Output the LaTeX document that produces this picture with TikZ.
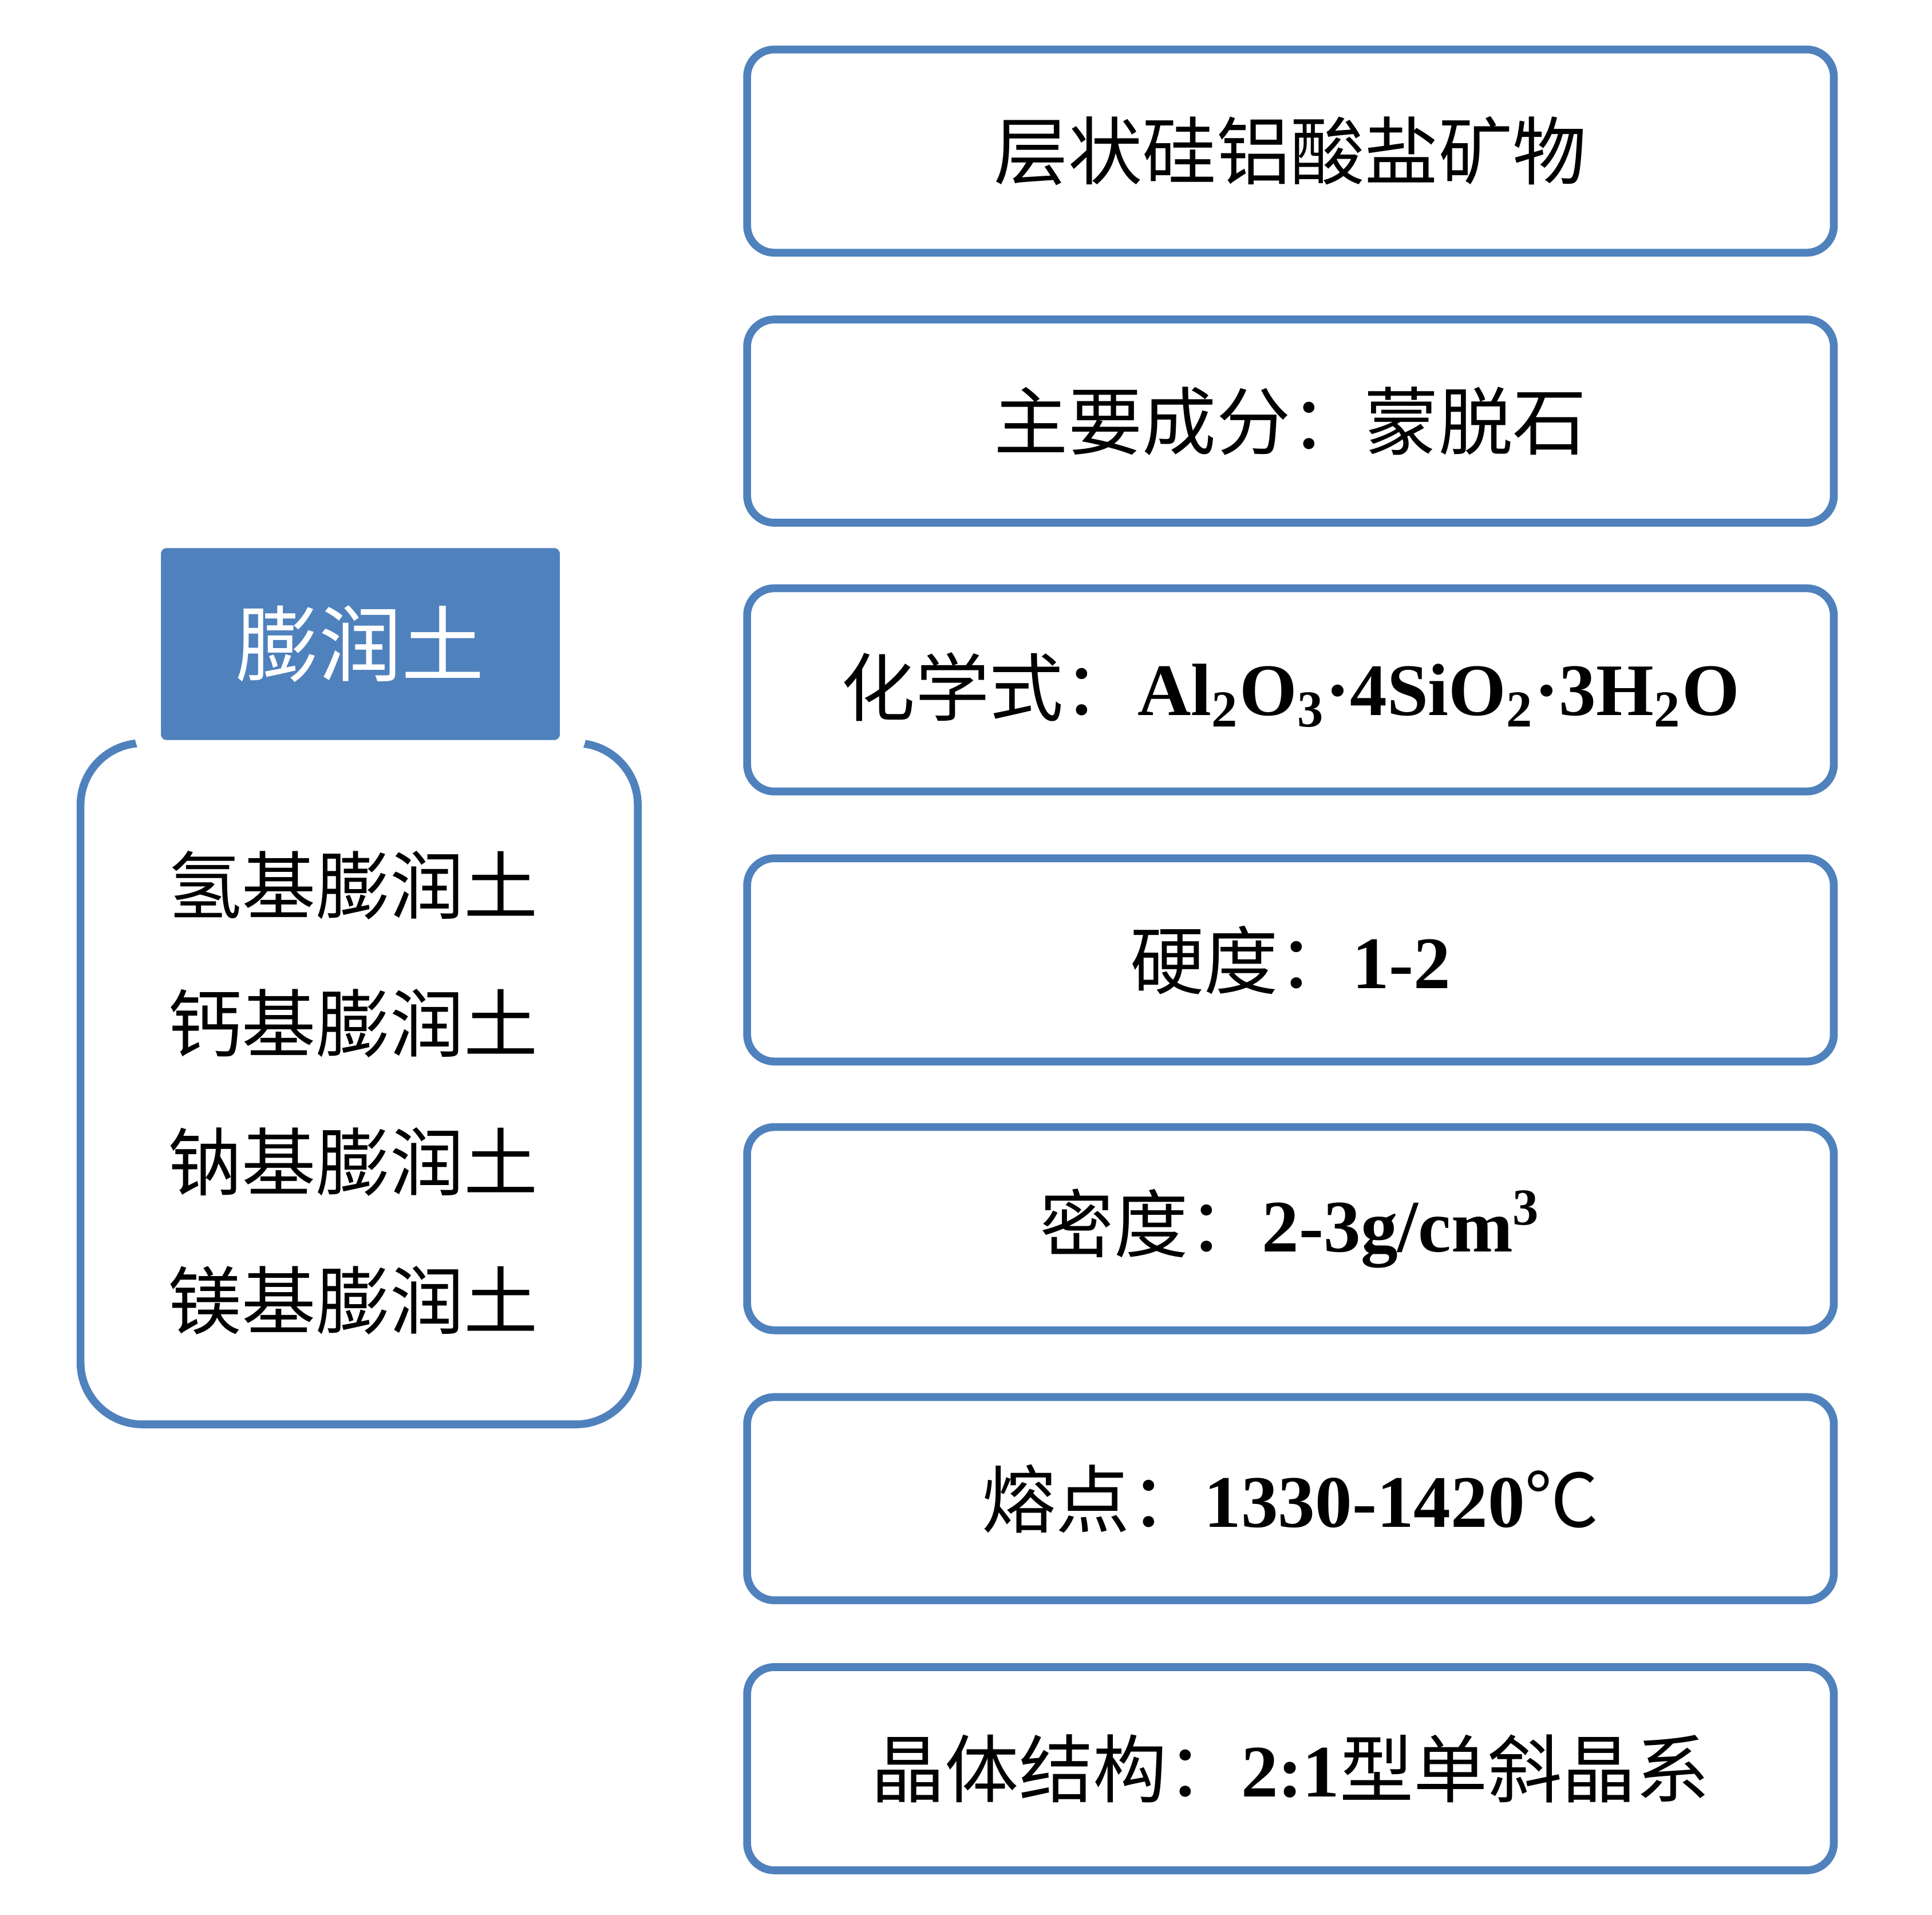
\documentclass[tikz,border=0pt]{standalone}
\usepackage{fontspec}
\setmainfont{Liberation Serif}
\newfontfamily\cjk{Noto Sans CJK SC}
\definecolor{bl}{HTML}{4F81BD}
\tikzset{
 info/.style={draw=bl,line width=1.8pt,rounded corners=0.22cm,minimum width=8.77cm,minimum height=1.64cm,fill=white,font=\fontsize{17}{20}\selectfont},
 item/.style={anchor=west,font=\cjk\fontsize{17}{20}\selectfont,inner sep=0pt},
}
\newcommand{\cj}[1]{{\cjk #1}}
\begin{document}
\begin{tikzpicture}[x=0.01cm,y=-0.01cm]
\useasboundingbox (0,0) rectangle (1560,1546);
\node[info] (b1) at (1042,122) {\cj{层状硅铝酸盐矿物}};
\node[info] (b2) at (1042,340) {\cj{主要成分：蒙脱石}};
\node[info] (b3) at (1042,557) {\cj{化学式：}\textbf{Al\textsubscript{2}O\textsubscript{3}·4SiO\textsubscript{2}·3H\textsubscript{2}O}};
\node[info] (b4) at (1042,775) {\cj{硬度：}\textbf{1-2}};
\node[info] (b5) at (1042,992) {\cj{密度：}\textbf{2-3g/cm\textsuperscript{3}}};
\node[info] (b6) at (1042,1210) {\cj{熔点：}\textbf{1330-1420}\cj{℃}};
\node[info] (b7) at (1042,1428) {\cj{晶体结构：}\textbf{2:1}\cj{型单斜晶系}};
\draw[draw=bl,line width=1.8pt,rounded corners=0.5cm] (65,600) rectangle (515,1150);
\node[draw=white,line width=6pt,fill=bl,rounded corners=0.15cm,minimum width=3.43cm,minimum height=1.76cm,text=white,font=\cjk\fontsize{19}{22}\selectfont] (t) at (291,520) {膨润土};
\node[item] (l1) at (135,715) {氢基膨润土};
\node[item] (l2) at (135,826) {钙基膨润土};
\node[item] (l3) at (135,938) {钠基膨润土};
\node[item] (l4) at (135,1050) {镁基膨润土};
\end{tikzpicture}
\end{document}
